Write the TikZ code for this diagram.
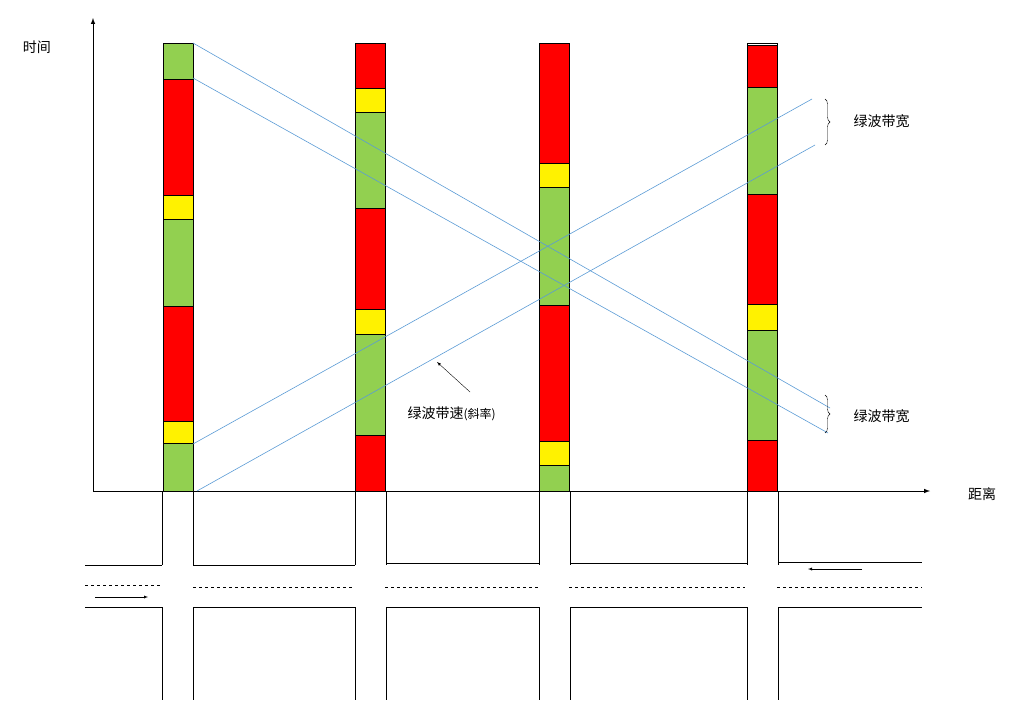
\documentclass[tikz,border=0pt]{standalone}
\usepackage{fontspec}
\newfontfamily\cjk{Noto Sans CJK SC}
\usetikzlibrary{decorations.pathreplacing}
\definecolor{gr}{RGB}{146,208,80}
\definecolor{bl}{RGB}{91,155,213}
\begin{document}
\begin{tikzpicture}[x=1pt,y=-1pt,
 seg/.style={draw=black,line width=0.8pt},
 band/.style={bl,line width=0.6pt},
 road/.style={line width=1pt},
 lab/.style={font=\cjk\fontsize{14}{16}\selectfont}]
\useasboundingbox (0,0) rectangle (1021,720);
% axes
\draw[-latex,line width=1pt] (93,491) -- (93,18);
\draw[-latex,line width=1pt] (93,491) -- (930,491);
\node[lab] (t) at (37,47) {时间};
\node[lab] (d) at (982,494) {距离};
% bars
\foreach \x/\list in {163/{gr/43/79,red/79/195,yellow/195/219,gr/219/306,red/306/421,yellow/421/443,gr/443/491},
 355/{red/43/88,yellow/88/112,gr/112/208,red/208/309,yellow/309/334,gr/334/435,red/435/491},
 539/{red/43/163,yellow/163/187,gr/187/305,red/305/441,yellow/441/465,gr/465/491},
 747/{red/45/87,gr/87/194,red/194/304,yellow/304/330,gr/330/440,red/440/491}}{
 \foreach \c/\a/\b in \list {\fill[\c] (\x,\a) rectangle (\x+30,\b); \draw[seg] (\x,\a)--(\x+30,\a);}
 \draw[seg] (\x,43) rectangle (\x+30,491);
}
% bands
\draw[band] (193,43) -- (830,408);
\draw[band] (193,78) -- (828,433);
\draw[band] (193,444) -- (812,99);
\draw[band] (197,491) -- (815,145);
\draw[decorate,decoration={brace,amplitude=5pt}] (825,99) -- (825,145);
\node[lab,anchor=west] (w1) at (850,121) {绿波带宽};
\draw[decorate,decoration={brace,amplitude=5pt}] (825,395) -- (825,433);
\node[lab,anchor=west] (w2) at (850,416) {绿波带宽};
\coordinate (tip) at (437,362);
\node[lab,anchor=west] (s) at (404,414) {绿波带速{\fontsize{12}{14}\selectfont(斜率)}};
\draw[-latex] (470,392) -- (tip);
% road
\foreach \x in {162,355,539,747}{
 \draw[road] (\x,491)--(\x,565); \draw[road] (\x+31,491)--(\x+31,565);
 \draw[road] (\x,607)--(\x,700); \draw[road] (\x+31,607)--(\x+31,700);}
\draw[road] (85,565)--(162,565) (193,565)--(355,565) (386,563)--(539,563) (570,563)--(747,563) (778,562)--(922,562);
\draw[road] (85,607)--(162,607) (193,607)--(355,607) (386,607)--(539,607) (570,607)--(747,607) (778,607)--(922,607);
\draw[dashed] (85,585)--(160,585) (193,587)--(353,587) (385,587)--(538,587) (569,587)--(745,587) (777,587)--(922,587);
\draw[-latex] (95,597)--(148,597);
\draw[-latex] (862,569)--(808,569);
\end{tikzpicture}
\end{document}
